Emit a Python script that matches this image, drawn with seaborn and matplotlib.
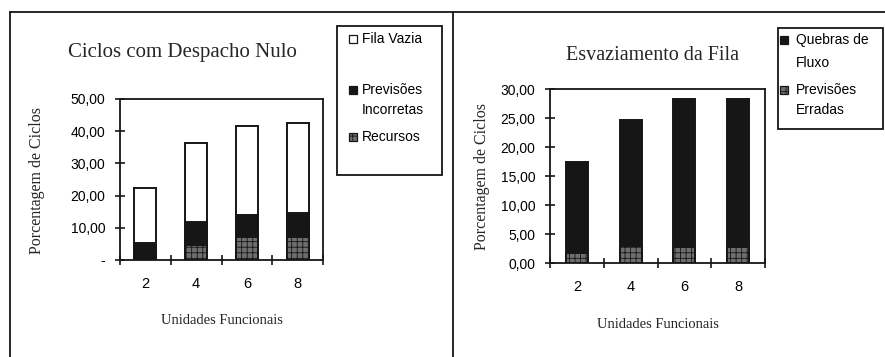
import matplotlib
matplotlib.use("Agg")
import matplotlib.pyplot as plt
from matplotlib.patches import Rectangle
from matplotlib.lines import Line2D
import seaborn as sns
import pandas as pd
import numpy as np

# ---------------- data ----------------
unidades = ["2", "4", "6", "8"]

# Left chart: Ciclos com Despacho Nulo (stacked segments)
recursos = [0.0, 4.7, 7.0, 7.0]
previsoes_incorretas = [5.4, 7.2, 7.0, 7.5]
fila_vazia = [17.1, 24.3, 27.7, 28.0]
left_yticks = [0, 10, 20, 30, 40, 50]
left_yticklabels = ["-", "10,00", "20,00", "30,00", "40,00", "50,00"]

# Right chart: Esvaziamento da Fila (stacked segments)
previsoes_erradas = [1.7, 3.0, 2.8, 2.8]
quebras_fluxo = [15.7, 21.7, 25.5, 25.5]
right_yticks = [0, 5, 10, 15, 20, 25, 30]
right_yticklabels = ["0,00", "5,00", "10,00", "15,00", "20,00", "25,00", "30,00"]

# ---------------- style ----------------
sns.set_theme(style="white")
plt.rcParams["font.family"] = ["Liberation Sans", "DejaVu Sans"]
plt.rcParams["hatch.linewidth"] = 0.6
plt.rcParams["hatch.color"] = "#2a2a2a"

BLACK = "#161616"
GRAY = "#6e6e6e"
SERIF = ["Liberation Serif", "DejaVu Serif"]

W, H = 885, 357
fig = plt.figure(figsize=(W / 100, H / 100), dpi=100)
fig.patch.set_facecolor("white")


def fx(px):
    return px / W


def fy(py):
    return 1 - py / H


def stacked(ax, layers, bar_width):
    # layers: list of (values, facecolor, hatch) bottom -> top
    cum = np.zeros(len(unidades))
    cums = []
    for vals, fc, hatch in layers:
        cum = cum + np.array(vals)
        cums.append((cum.copy(), fc, hatch))
    for tot, fc, hatch in reversed(cums):
        df = pd.DataFrame({"u": unidades, "v": tot})
        sns.barplot(data=df, x="u", y="v", order=unidades, ax=ax, color=fc,
                    width=bar_width, edgecolor=BLACK, linewidth=1.4,
                    saturation=1)
        if hatch:
            for p in ax.patches[-len(unidades):]:
                p.set_hatch(hatch)
                p.set_facecolor(fc)


def style_axes(ax, yticks, yticklabels, ymax):
    ax.set_ylim(0, ymax)
    ax.set_xlim(-0.5, len(unidades) - 0.5)
    for s in ax.spines.values():
        s.set_visible(True)
        s.set_color(BLACK)
        s.set_linewidth(1.3)
    ax.set_yticks(yticks)
    ax.set_yticklabels(yticklabels, fontsize=10, color="black")
    ax.set_xticks(range(len(unidades)))
    ax.set_xticklabels(unidades, fontsize=10.5, color="black")
    ax.set_xticks(np.arange(-0.5, len(unidades)), minor=True)
    ax.tick_params(axis="x", which="major", length=0, pad=12)
    ax.tick_params(axis="x", which="minor", direction="inout", length=7,
                   width=1.2, color=BLACK, bottom=True)
    ax.tick_params(axis="y", which="major", direction="inout", length=7,
                   width=1.2, color=BLACK, left=True, pad=7)
    ax.set_xlabel("")
    ax.set_ylabel("")
    ax.grid(False)
    ax.set_facecolor("white")


# ---------------- left chart ----------------
axL = fig.add_axes([fx(120), fy(260), fx(203), 161 / H])
stacked(axL, [(recursos, GRAY, "+++"),
              (previsoes_incorretas, BLACK, None),
              (fila_vazia, "white", None)], 0.43)
style_axes(axL, left_yticks, left_yticklabels, 50)
fig.text(fx(182), fy(52), "Ciclos com Despacho Nulo", family=SERIF,
         fontsize=15, ha="center", va="center")
fig.text(fx(37), fy(181), "Porcentagem de Ciclos", family=SERIF,
         fontsize=11.5, rotation=90, ha="center", va="center")
fig.text(fx(222), fy(320), "Unidades Funcionais", family=SERIF,
         fontsize=10.5, ha="center", va="center")

# ---------------- right chart ----------------
axR = fig.add_axes([fx(550), fy(263.3), fx(215), 174 / H])
stacked(axR, [(previsoes_erradas, GRAY, "+++"),
              (quebras_fluxo, BLACK, None)], 0.41)
style_axes(axR, right_yticks, right_yticklabels, 30)
fig.text(fx(653), fy(55), "Esvaziamento da Fila", family=SERIF,
         fontsize=14.5, ha="center", va="center")
fig.text(fx(482), fy(177), "Porcentagem de Ciclos", family=SERIF,
         fontsize=11.5, rotation=90, ha="center", va="center")
fig.text(fx(658), fy(325), "Unidades Funcionais", family=SERIF,
         fontsize=10.5, ha="center", va="center")


# ---------------- legends (Excel-style boxes) ----------------
def legend_box(x0, y0, x1, y1, entries, hx, tx):
    fig.add_artist(Rectangle((fx(x0), fy(y1)), fx(x1 - x0), (y1 - y0) / H,
                             transform=fig.transFigure, facecolor="white",
                             edgecolor=BLACK, linewidth=1.3))
    for label, ylines, fc, hatch in entries:
        s = 8
        fig.add_artist(Rectangle((fx(hx - s / 2), fy(ylines[0] + s / 2)),
                                 fx(s), s / H, transform=fig.transFigure,
                                 facecolor=fc, edgecolor=BLACK, linewidth=0.9,
                                 hatch=hatch))
        for line, yy in zip(label.split("\n"), ylines):
            fig.text(fx(tx), fy(yy), line, fontsize=10, ha="left",
                     va="center", color="black")


legend_box(337, 26, 442, 175,
           [("Fila Vazia", [39], "white", None),
            ("Previsões\nIncorretas", [90, 110], BLACK, None),
            ("Recursos", [137], GRAY, "+++")],
           353, 362)

legend_box(778, 28, 883, 129,
           [("Quebras de\nFluxo", [40, 63], BLACK, None),
            ("Previsões\nErradas", [90, 110], GRAY, "+++")],
           784, 796)

# ---------------- panel borders ----------------
for (xa, ya, xb, yb) in [(10, 12, 885, 12), (10, 12, 10, 357),
                         (453, 12, 453, 357)]:
    fig.add_artist(Line2D([fx(xa), fx(xb)], [fy(ya), fy(yb)],
                          transform=fig.transFigure, color=BLACK,
                          linewidth=1.3))

fig.savefig("out.png", dpi=100, facecolor="white")
